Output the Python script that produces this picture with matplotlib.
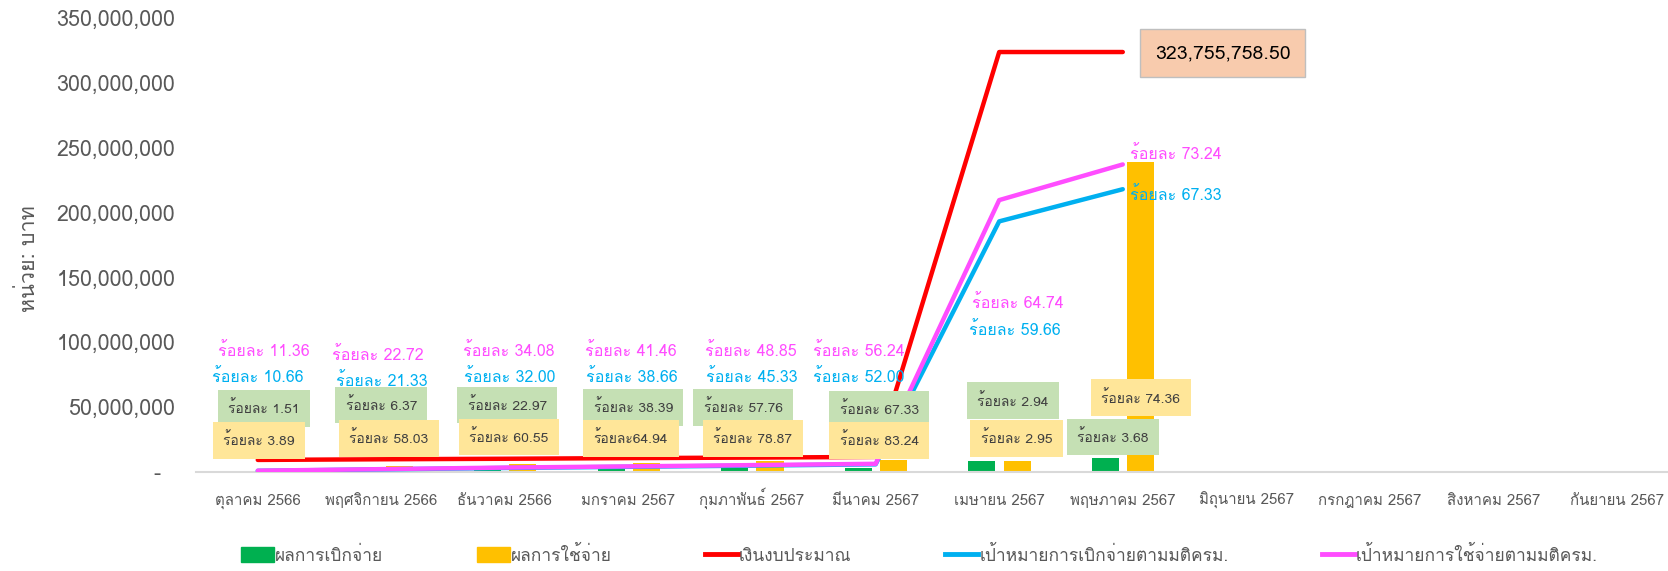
import numpy as np
import matplotlib
matplotlib.use("Agg")
import matplotlib.pyplot as plt
from matplotlib import font_manager
from matplotlib.ft2font import FT2Font
from matplotlib.ticker import FuncFormatter
from matplotlib.lines import Line2D
from matplotlib.patches import Patch


# หาฟอนต์ที่มีอักษรไทย
def find_thai_font():
    for f in font_manager.fontManager.ttflist:
        try:
            if 0x0E01 in FT2Font(f.fname).get_charmap():
                return f.name
        except Exception:
            pass
    return None


thai = find_thai_font()
print("thai font:", thai)
fams = [thai, "DejaVu Sans"] if thai else ["DejaVu Sans"]
plt.rcParams["font.family"] = fams

# ข้อมูล (ล้านบาท)
months = ["ตุลาคม 2566", "พฤศจิกายน 2566", "ธันวาคม 2566", "มกราคม 2567",
          "กุมภาพันธ์ 2567", "มีนาคม 2567", "เมษายน 2567", "พฤษภาคม 2567",
          "มิถุนายน 2567", "กรกฎาคม 2567", "สิงหาคม 2567", "กันยายน 2567"]
disbursed = [0.15, 0.4, 1.2, 2.3, 2.8, 3.4, 8.7, 11.1]
spent = [0.3, 4.8, 6.0, 7.0, 8.6, 9.5, 8.7, 239.0]
budget = [9.3, 9.8, 10.2, 10.7, 11.1, 11.6, 323.76, 323.76]
target_disb = [0.9, 2.0, 3.1, 4.0, 4.9, 5.9, 193.2, 218.0]
target_spend = [1.0, 2.2, 3.4, 4.3, 5.3, 6.3, 209.6, 237.1]

pct_disb = ["1.51", "6.37", "22.97", "38.39", "57.76", "67.33", "2.94", "3.68"]
pct_spent = ["3.89", "58.03", "60.55", "64.94", "78.87", "83.24", "2.95", "74.36"]
pct_tdisb = ["10.66", "21.33", "32.00", "38.66", "45.33", "52.00", "59.66", "67.33"]
pct_tspend = ["11.36", "22.72", "34.08", "41.46", "48.85", "56.24", "64.74", "73.24"]
budget_label = "323,755,758.50"

M = 1e6
GREEN, YELLOW, RED, CYAN, PINK = "#00B050", "#FFC000", "#FF0000", "#00B0F0", "#FF4DFF"
GRAY = "#595959"

fig = plt.figure(figsize=(16.68, 5.71), dpi=100)
ax = fig.add_axes([0.1175, 0.1734, 0.889, 0.7951])

n = len(disbursed)
x = np.arange(n)
ax.bar(x - 0.14, np.array(disbursed) * M, width=0.22, color=GREEN, zorder=2)
ax.bar(x + 0.145, np.array(spent) * M, width=0.22, color=YELLOW, zorder=2)

kw = dict(lw=3.2, solid_capstyle="round", solid_joinstyle="round", zorder=3)
ax.plot(x, np.array(budget) * M, color=RED, **kw)
ax.plot(x, np.array(target_disb) * M, color=CYAN, **kw)
ax.plot(x, np.array(target_spend) * M, color=PINK, **kw)

ax.set_xlim(-0.5, 11.5)
ax.set_ylim(0, 350 * M)
ax.set_xticks(np.arange(12))
ax.set_xticklabels(months, fontsize=10.8, color=GRAY, va="baseline")
ax.tick_params(axis="x", length=0, pad=24)
ax.tick_params(axis="y", length=0, pad=15, labelsize=15.5, labelcolor=GRAY)
ax.set_yticks(np.arange(0, 351, 50) * M)
ax.yaxis.set_major_formatter(FuncFormatter(lambda v, p: "-  " if v == 0 else f"{v:,.0f}"))
for s in ["top", "right", "left"]:
    ax.spines[s].set_visible(False)
ax.spines["bottom"].set_color("#D9D9D9")
ax.spines["bottom"].set_linewidth(1.5)
fig.text(0.0172, 0.547, "หน่วย: บาท", rotation=90, ha="center", va="center",
         fontsize=15.5, color=GRAY)

# ป้ายร้อยละของเส้นเป้าหมาย
pink_pos = [(0.05, 92.7), (0.97, 90), (2.03, 92.7), (3.02, 92.7), (3.99, 92.7),
            (4.86, 92.7), (6.15, 129.8), (7.43, 245)]
cyan_pos = [(0.0, 73), (1.0, 69.6), (2.04, 73), (3.025, 73), (4.0, 73),
            (4.86, 73), (6.13, 109), (7.43, 213)]
for (px, py), t in zip(pink_pos, pct_tspend):
    ax.text(px, py * M, "ร้อยละ " + t, color=PINK, fontsize=11.5,
            ha="center", va="center", zorder=5)
for (cx, cy), t in zip(cyan_pos, pct_tdisb):
    ax.text(cx, cy * M, "ร้อยละ " + t, color=CYAN, fontsize=11.5,
            ha="center", va="center", zorder=5)

# ป้ายร้อยละในกล่อง
green_pos = [(0.05, 49.1), (1.0, 51.6), (2.02, 51.6), (3.04, 49.9), (3.93, 49.9),
             (5.03, 48.3), (6.11, 54.9), (6.92, 26.9)]
yellow_pos = [(0.01, 24.4), (1.06, 26.1), (2.03, 26.9), (3.02, 26.1), (4.005, 26.1),
              (5.03, 24.4), (6.14, 26.1), (7.145, 57.3)]
for (gx, gy), t in zip(green_pos, pct_disb):
    ax.text(gx, gy * M, "ร้อยละ " + t, color="#404040", fontsize=10,
            ha="center", va="center", zorder=6,
            bbox=dict(boxstyle="square,pad=0.75", fc="#C5E0B4", ec="none"))
for (yx, yy), t in zip(yellow_pos, pct_spent):
    sep = "" if t == "64.94" else " "
    ax.text(yx, yy * M, "ร้อยละ" + sep + t, color="#404040", fontsize=10,
            ha="center", va="center", zorder=6,
            bbox=dict(boxstyle="square,pad=0.75", fc="#FFE699", ec="none"))

ax.text(7.81, 323 * M, budget_label, color="black", fontsize=14,
        ha="center", va="center", zorder=6,
        bbox=dict(boxstyle="square,pad=0.75", fc="#F8CBAD", ec="#BFBFBF"))

handles = [Patch(color=GREEN), Patch(color=YELLOW),
           Line2D([], [], color=RED, lw=3.5), Line2D([], [], color=CYAN, lw=3.5),
           Line2D([], [], color=PINK, lw=3.5)]
labels = ["ผลการเบิกจ่าย", "ผลการใช้จ่าย", "เงินงบประมาณ",
          "เป้าหมายการเบิกจ่ายตามมติครม.", "เป้าหมายการใช้จ่ายตามมติครม."]
fig.legend(handles, labels, loc="center left", bbox_to_anchor=(0.135, 0.028),
           ncol=5, frameon=False, fontsize=12.5, labelcolor=GRAY,
           handlelength=1.9, handleheight=1.0, handletextpad=0.05, columnspacing=5.4)

fig.savefig("out.png", dpi=100)
